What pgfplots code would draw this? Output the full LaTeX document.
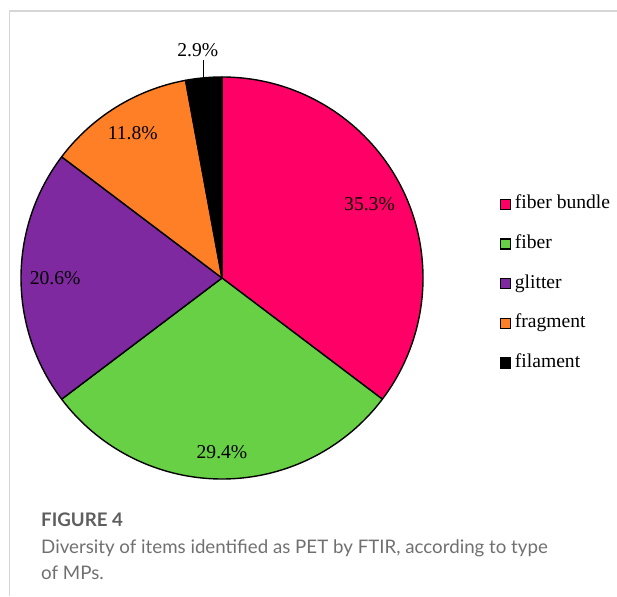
\documentclass[border=0pt]{standalone}
\usepackage{pgfplots}
\pgfplotsset{compat=1.18}
\usepackage{pgfplotstable}
\usepackage{fontspec}
\setmainfont{Liberation Serif}
\newfontfamily\capfont{Lato}
\definecolor{pie0}{HTML}{FF0066}
\definecolor{pie1}{HTML}{68D044}
\definecolor{pie2}{HTML}{7F29A1}
\definecolor{pie3}{HTML}{FF7F27}
\definecolor{pie4}{HTML}{000000}
\definecolor{capgray}{HTML}{707070}
\definecolor{figgray}{HTML}{5E5E5E}
\definecolor{framegray}{HTML}{D6D6D6}
\newcommand\lbl{\fontsize{19.6}{20}\selectfont}

% share of each type (%), label radius (fraction of pie radius)
\pgfplotstableread{
share lr
35.3 0.82
29.4 0.866
20.6 0.83
11.8 0.845
2.9 1.134
}\piedata

\begin{document}
\begin{tikzpicture}[x=1pt,y=1pt]
\path[use as bounding box] (0,0) rectangle (617,596);
\draw[framegray, line width=1.3pt] (9.5,0) -- (9.5,585) -- (617,585);
\def\cum{0}
\pgfplotsforeachungrouped \i in {0,...,4}{%
  \pgfplotstablegetelem{\i}{share}\of\piedata \let\shv\pgfplotsretval
  \pgfplotstablegetelem{\i}{lr}\of\piedata \let\lrv\pgfplotsretval
  \pgfmathsetmacro\sa{90-3.6*\cum}%
  \pgfmathsetmacro\cumnew{\cum+\shv}%
  \pgfmathsetmacro\ea{90-3.6*\cumnew}%
  \pgfmathsetmacro\ma{(\sa+\ea)/2}%
  \expandafter\xdef\csname sa\i\endcsname{\sa}%
  \expandafter\xdef\csname ea\i\endcsname{\ea}%
  \expandafter\xdef\csname ma\i\endcsname{\ma}%
  \expandafter\xdef\csname lr\i\endcsname{\lrv}%
  \expandafter\xdef\csname pc\i\endcsname{\shv}%
  \global\let\cum\cumnew
}
\begin{axis}[at={(21pt,117pt)}, anchor=south west,
  width=402pt, height=402pt, scale only axis,
  xmin=-1, xmax=1, ymin=-1, ymax=1, hide axis, clip=false,
  legend cell align=left,
  legend image code/.code={\draw[#1, line width=1.2pt] (0pt,-5pt) rectangle (10pt,5pt); \path (14.5pt,0pt);},
  legend style={at={(1.190,0.486)}, anchor=west, draw=none, fill=none,
    inner sep=0pt, row sep=20.7pt, font=\lbl,
    nodes={inner sep=0pt, text height=14pt, text depth=5pt}},
]
\pgfplotsinvokeforeach{0,...,4}{%
  \edef\tmp{\noexpand\filldraw[fill=pie#1, draw=black, line width=1.4pt, line join=round]
    (axis cs:0,0) -- (axis cs:{cos(\csname sa#1\endcsname)},{sin(\csname sa#1\endcsname)})
    arc[start angle=\csname sa#1\endcsname, end angle=\csname ea#1\endcsname, radius=201pt] -- cycle;}%
  \tmp
}
\pgfplotsinvokeforeach{0,...,3}{%
  \edef\tmp{\noexpand\node[font=\noexpand\lbl, inner sep=0pt] at (axis cs:{\csname lr#1\endcsname*cos(\csname ma#1\endcsname)},{\csname lr#1\endcsname*sin(\csname ma#1\endcsname)}) {\csname pc#1\endcsname\noexpand\%};}%
  \tmp
}
\edef\tmp{\noexpand\draw[line width=1.2pt] (axis cs:{cos(\csname ma4\endcsname)},{sin(\csname ma4\endcsname)}) -- (axis cs:{cos(\csname ma4\endcsname)},1.085);
  \noexpand\node[font=\noexpand\lbl, inner sep=0pt, xshift=-6pt] at (axis cs:{cos(\csname ma4\endcsname)},\csname lr4\endcsname) {\csname pc4\endcsname\noexpand\%};}%
\tmp
\addlegendimage{fill=pie0, draw=black}\addlegendentry{fiber bundle}
\addlegendimage{fill=pie1, draw=black}\addlegendentry{fiber}
\addlegendimage{fill=pie2, draw=black}\addlegendentry{glitter}
\addlegendimage{fill=pie3, draw=black}\addlegendentry{fragment}
\addlegendimage{fill=pie4, draw=black}\addlegendentry{filament}
\end{axis}
\node[anchor=base west, inner sep=0pt, font=\capfont\bfseries\fontsize{18.7}{20}\selectfont, text=figgray] at (41,70) {FIGURE 4};
\node[anchor=base west, inner sep=0pt, font=\capfont\fontsize{18.7}{20}\selectfont, text=capgray] at (41,43) {Diversity of items identified as PET by FTIR, according to type};
\node[anchor=base west, inner sep=0pt, font=\capfont\fontsize{18.7}{20}\selectfont, text=capgray] at (41,17) {of MPs.};
\end{tikzpicture}
\end{document}
